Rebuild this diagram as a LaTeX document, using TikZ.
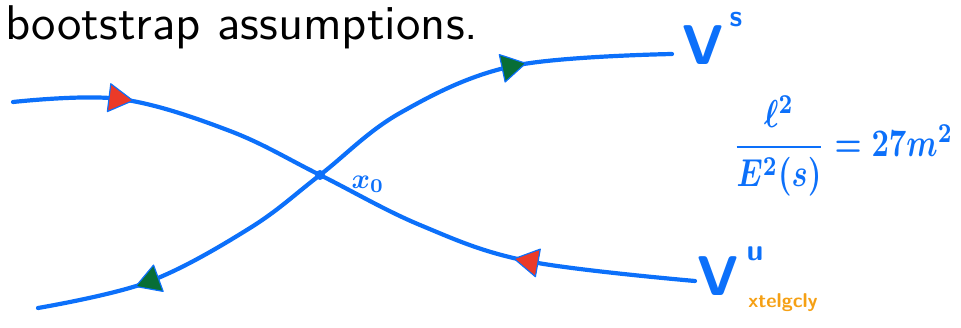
\documentclass[tikz,border=0pt]{standalone}
\usepackage{amsmath}
\usepackage{graphicx}
\usetikzlibrary{calc}
\definecolor{penblue}{RGB}{12,112,250}
\definecolor{penred}{RGB}{235,58,40}
\definecolor{pengreen}{RGB}{8,110,55}
\definecolor{penorange}{RGB}{245,160,20}
\tikzset{
  traj/.style={draw=penblue, line width=4.2pt, line cap=round, line join=round},
  arrowhead/.pic={\path[pic actions, draw=penblue, line width=1.2pt, line join=round] (-11,-14) -- (13,0) -- (-11,14) -- cycle;},
  hand/.style={text=penblue, inner sep=0pt},
}
\begin{document}
\begin{tikzpicture}[x=1pt,y=1pt]
\useasboundingbox (0,0) rectangle (961,327);
% title
\node[anchor=base west, inner sep=0pt] (title) at (5,287) {\resizebox{473pt}{!}{\sffamily bootstrap assumptions.}};
% curve 1
\coordinate (A) at (13,225);
\coordinate (R1) at (120,228);
\coordinate (B) at (230,196);
\coordinate (X0) at (320,152);
\coordinate (C) at (420,102);
\coordinate (R2) at (527,66);
\coordinate (D) at (695,46);
% curve 2
\coordinate (E) at (38,19);
\coordinate (G1) at (148,45);
\coordinate (F) at (250,99);
\coordinate (H) at (400,214);
\coordinate (G2) at (513,261);
\coordinate (I) at (672,273);
\draw[traj] plot[smooth, tension=0.6] coordinates {(A) (R1) (B) (X0) (C) (R2) (D)};
\draw[traj] plot[smooth, tension=0.6] coordinates {(E) (G1) (F) (X0) (H) (G2) (I)};
% arrowheads
\pic[fill=penred, rotate=-7] at (R1) {arrowhead};
\pic[fill=pengreen, rotate=200] at (G1) {arrowhead};
\pic[fill=pengreen, rotate=12] at (G2) {arrowhead};
\pic[fill=penred, rotate=170] at (R2) {arrowhead};
% fixed point
\node[circle, fill=penblue, minimum size=10pt, inner sep=0pt] (x0dot) at (X0) {};
\node[hand] (x0lab) at (368,143) {\scalebox{2.8}{$\boldsymbol{x_0}$}};
% labels
\node[hand, font=\fontsize{56}{64}\selectfont\sffamily\bfseries] (Vs) at (703,282) {V};
\node[hand, font=\fontsize{30}{36}\selectfont\sffamily\bfseries] (s) at (736,307) {s};
\node[hand, font=\fontsize{56}{64}\selectfont\sffamily\bfseries] (Vu) at (718,51) {V};
\node[hand, font=\fontsize{30}{36}\selectfont\sffamily\bfseries] (u) at (755,73) {u};
\node[text=penorange, inner sep=0pt, font=\fontsize{20}{24}\selectfont\sffamily\bfseries] (note) at (783,24) {xtelgcly};
% equation
\node[hand] (eq) at (843,181) {\resizebox*{220pt}{100pt}{$\boldsymbol{\dfrac{\ell^2}{E^2(s)} = 27m^2}$}};
\end{tikzpicture}
\end{document}
